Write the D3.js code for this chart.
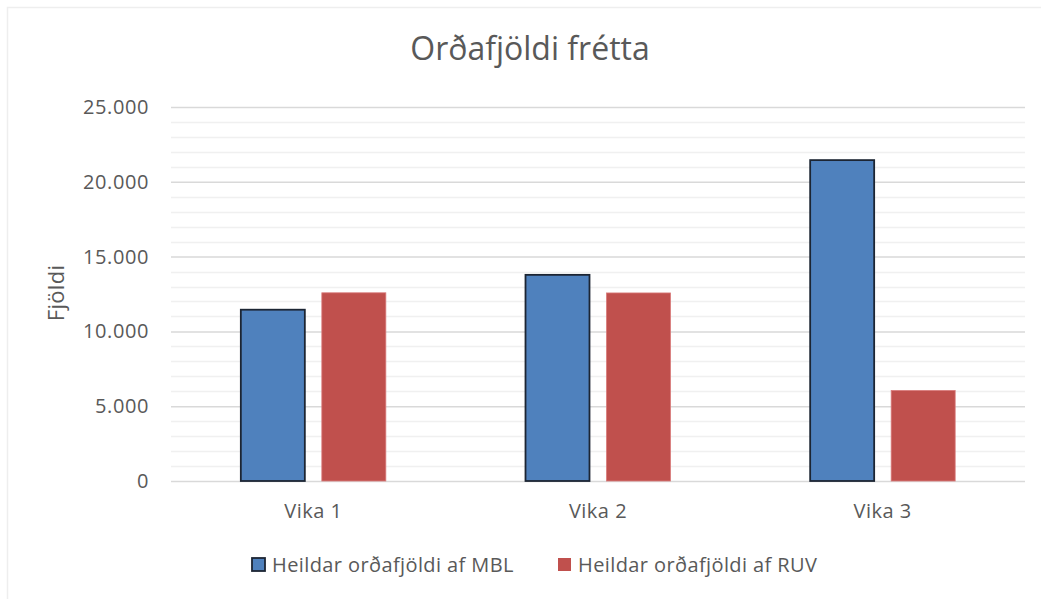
<!DOCTYPE html>
<html>
<head>
<meta charset="utf-8">
<script src="https://cdn.jsdelivr.net/npm/d3@7"></script>
<style>
  html, body { margin: 0; padding: 0; background: #fff; }
  svg { display: block; font-family: "Open Sans", "Noto Sans", sans-serif; }
</style>
</head>
<body>
<svg id="chart" width="1041" height="599"></svg>
<script>
const categories = ["Vika 1", "Vika 2", "Vika 3"];
const seriesNames = ["Heildar orðafjöldi af MBL", "Heildar orðafjöldi af RUV"];
const mblValues = [11450, 13780, 21450];
const ruvValues = [12580, 12570, 6050];
const yTicks = [0, 5000, 10000, 15000, 20000, 25000];
const minorTicks = d3.range(0, 25001, 1000);
const title = "Orðafjöldi frétta";
const yTitle = "Fjöldi";

(function () {
const FONT = '"Open Sans", "Noto Sans", sans-serif';
const colors = ["#4f81bd", "#c0504d"];
const strokes = ["#1c2533", "#d97b7b"];
const txt = "#595959";

const svg = d3.select("#chart");
const W = 1041, H = 599;

// chart border
svg.append("rect").attr("x", 7.5).attr("y", 7.5).attr("width", W + 10).attr("height", H + 10)
  .attr("fill", "#fff").attr("stroke", "#eeeeee").attr("stroke-width", 1.5);

const pLeft = 171, pRight = 1025, pTop = 107, pBottom = 481;

const x = d3.scaleBand().domain(categories).range([pLeft, pRight]).paddingInner(0).paddingOuter(0);
const y = d3.scaleLinear().domain([0, 25000]).range([pBottom, pTop]);

// minor gridlines
svg.append("g").selectAll("line").data(minorTicks.filter(v => v % 5000 !== 0)).join("line")
  .attr("x1", pLeft).attr("x2", pRight)
  .attr("y1", d => Math.round(y(d)) + 0.5).attr("y2", d => Math.round(y(d)) + 0.5)
  .attr("stroke", "#f0f0f0").attr("stroke-width", 1.5);

// major gridlines + y tick labels
const yAxis = d3.axisLeft(y).tickValues(yTicks).tickSize(-(pRight - pLeft)).tickPadding(22)
  .tickFormat(d => d === 0 ? "0" : d3.format(",")(d).replace(/,/g, "."));
const gy = svg.append("g").attr("transform", `translate(${pLeft},0)`).call(yAxis)
  .attr("font-family", FONT);
gy.select(".domain").remove();
gy.selectAll(".tick line").attr("stroke", "#d9d9d9").attr("stroke-width", 1.5);
gy.selectAll(".tick text").attr("fill", txt).attr("font-size", 20).attr("letter-spacing", 0.6);

// bars
const barW = 64, gap = 17;
const groups = categories.map((c, i) => ({ c, vals: [mblValues[i], ruvValues[i]] }));
const g = svg.append("g");
groups.forEach(grp => {
  const cx = x(grp.c) + x.bandwidth() / 2;
  const x0 = cx - (2 * barW + gap) / 2;
  grp.vals.forEach((v, s) => {
    g.append("rect")
      .attr("x", x0 + s * (barW + gap))
      .attr("y", y(v))
      .attr("width", barW)
      .attr("height", y(0) - y(v))
      .attr("fill", colors[s])
      .attr("stroke", strokes[s])
      .attr("stroke-width", s === 0 ? 1.8 : 0.8);
  });
});

// x axis labels
const xAxis = d3.axisBottom(x).tickSize(0).tickPadding(23);
const gx = svg.append("g").attr("transform", `translate(0,${pBottom})`).call(xAxis)
  .attr("font-family", FONT);
gx.select(".domain").remove();
gx.selectAll(".tick text").attr("fill", txt).attr("font-size", 20).attr("letter-spacing", 0.5);

// title
svg.append("text").attr("x", 530).attr("y", 60).attr("text-anchor", "middle")
  .attr("fill", txt).attr("font-size", 32).text(title);

// y title
svg.append("text").attr("transform", "translate(64,293) rotate(-90)")
  .attr("text-anchor", "middle").attr("fill", txt).attr("font-size", 22)
  .attr("letter-spacing", 0.3).text(yTitle);

// legend
const legendX = [252, 558];
seriesNames.forEach((name, i) => {
  svg.append("rect").attr("x", legendX[i]).attr("y", 558).attr("width", 13).attr("height", 13)
    .attr("fill", colors[i]).attr("stroke", i === 0 ? strokes[0] : "none").attr("stroke-width", 1.8);
  svg.append("text").attr("x", legendX[i] + 20).attr("y", 571.5)
    .attr("fill", txt).attr("font-size", 20).attr("letter-spacing", 0.4).text(name);
});
})();
</script>
</body>
</html>
